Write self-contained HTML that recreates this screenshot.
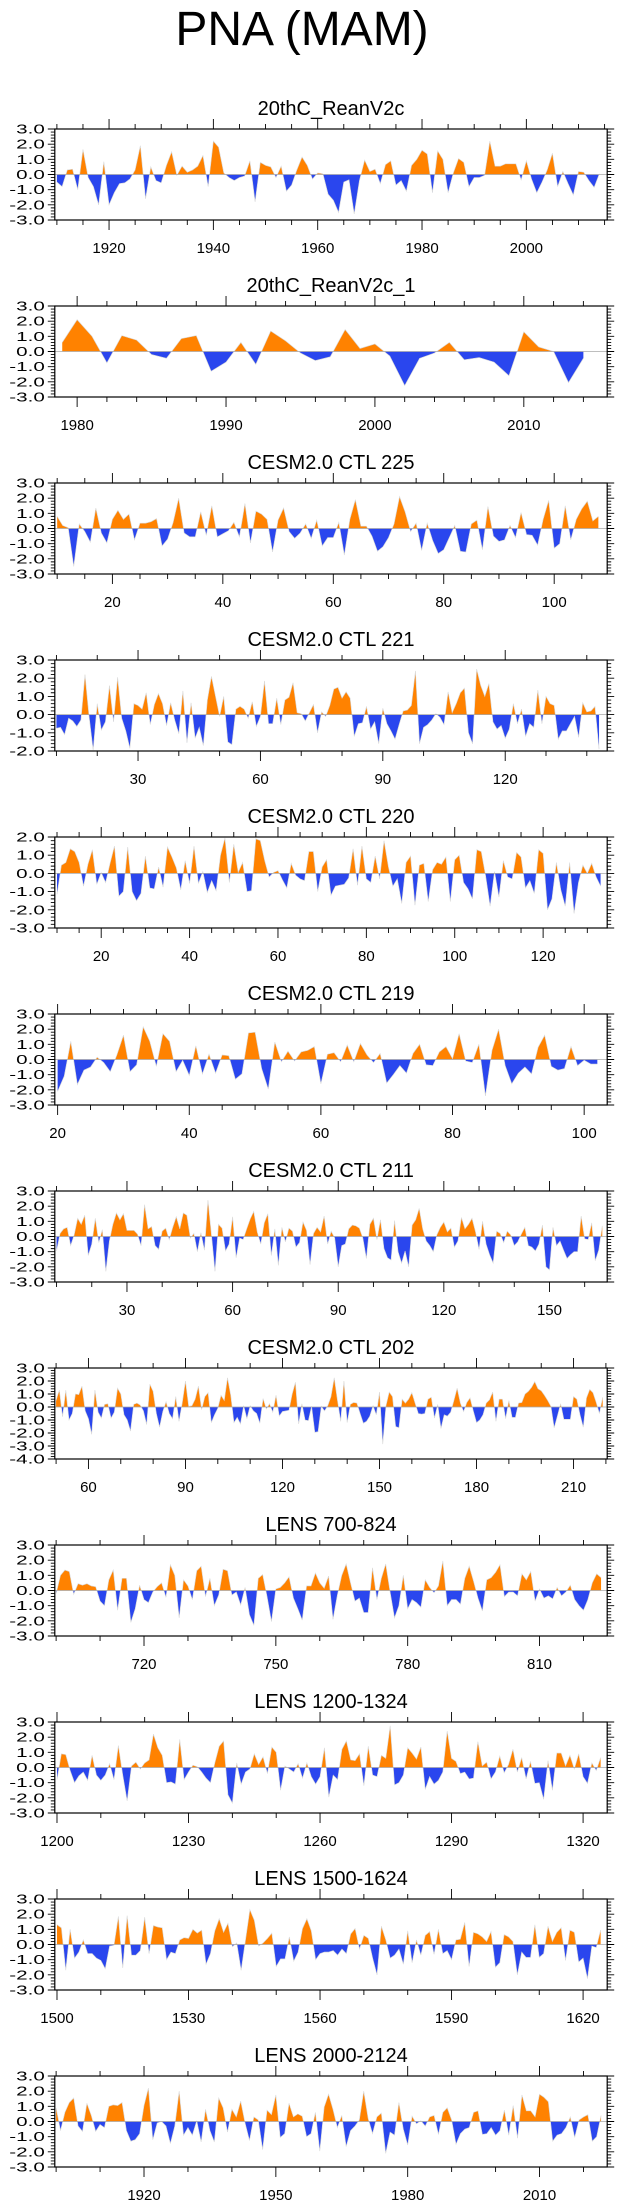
<!DOCTYPE html>
<html><head><meta charset="utf-8"><title>PNA (MAM)</title>
<style>
html,body{margin:0;padding:0;background:#fff;}
svg{display:block;font-family:"Liberation Sans",Arial,sans-serif;}
</style></head>
<body>
<svg id="chart" width="623" height="2209" viewBox="0 0 623 2209" xmlns="http://www.w3.org/2000/svg">
<rect x="0" y="0" width="623" height="2209" fill="#fff"/>
<text x="302" y="45" text-anchor="middle" font-size="48" fill="#000">PNA (MAM)</text>
</svg>
<script>
const titles = ["20thC_ReanV2c","20thC_ReanV2c_1","CESM2.0 CTL 225","CESM2.0 CTL 221","CESM2.0 CTL 220","CESM2.0 CTL 219","CESM2.0 CTL 211","CESM2.0 CTL 202","LENS 700-824","LENS 1200-1324","LENS 1500-1624","LENS 2000-2124"];
const startYears = [1910,1979,10,10,10,20,10,50,700,1200,1500,1900];
const xMins = [1909.6,1978.5,9.57,9.6,9.5,19.57,9.5,49.6,699.7,1199.5,1499.5,1899.7];
const xMaxs = [2015.5,2015.6,109.6,145,134.5,103.5,166.4,220.4,825.4,1325.5,1625.5,2025.4];
const yMins = [-3,-3,-3,-2,-3,-3,-3,-4,-3,-3,-3,-3];
const yMaxs = [3,3,3,3,2,3,3,3,3,3,3,3];
const majorTicks = [
 [1920,1940,1960,1980,2000],
 [1980,1990,2000,2010],
 [20,40,60,80,100],
 [30,60,90,120],
 [20,40,60,80,100,120],
 [20,40,60,80,100],
 [30,60,90,120,150],
 [60,90,120,150,180,210],
 [720,750,780,810],
 [1200,1230,1260,1290,1320],
 [1500,1530,1560,1590,1620],
 [1920,1950,1980,2010]
];
const minorSteps = [5,2,5,10,5,5,10,10,10,10,10,10];

const reanV2c = [-0.5,-0.8,0.3,0.35,-1.0,1.65,-0.2,-0.8,-2.0,0.85,-2.0,-1.2,-0.6,-0.55,-0.3,0.3,1.9,-1.6,0.5,-0.4,-0.55,0.6,1.5,-0.05,0.55,0.15,0.3,0.55,1.25,-0.8,2.2,1.8,0.1,-0.2,-0.4,-0.2,-0.1,0.9,-1.8,0.8,0.6,0.5,-0.2,0.55,-1.1,-0.7,0.3,1.15,0.6,-0.3,0.1,0.05,-1.3,-1.7,-2.5,-0.5,-0.35,-2.6,-0.4,0.95,0.2,0.35,-0.6,0.65,0.9,-0.7,-0.4,-1.1,0.6,1.0,1.6,1.35,-1.2,1.55,1.0,-1.2,0.1,1.05,0.8,-0.8,-0.2,-0.2,-0.05,2.2,0.55,0.55,0.7,0.7,0.7,-0.35,0.9,-0.3,-1.2,-0.5,0.3,1.4,-0.8,0.2,-0.6,-1.35,0.2,0.15,-0.4,-0.85,0.05];
const reanV2c1 = [0.6,2.1,1.0,-0.75,1.05,0.75,-0.2,-0.45,0.85,1.05,-1.3,-0.7,0.6,-0.85,1.35,0.7,-0.1,-0.6,-0.35,1.45,0.2,0.5,-0.3,-2.25,-0.45,-0.1,0.6,-0.55,-0.4,-0.7,-1.6,1.3,0.3,0.0,-2.05,-0.45];
const ctl225 = [0.8,0.2,0.05,-2.5,0.3,-0.2,-0.9,1.35,-0.3,-0.95,0.6,1.2,0.6,0.95,-0.75,0.35,0.35,0.45,0.65,-1.15,-0.7,0.4,2.0,-0.3,-0.55,-0.55,1.1,-0.45,1.5,-0.55,-0.35,-0.15,0.4,-0.55,1.65,-0.95,1.15,0.95,0.6,-1.55,0.55,1.35,-0.2,-0.65,-0.3,0.3,-0.65,0.55,-1.15,-0.6,-0.6,0.4,-1.75,0.6,1.9,0.15,0.15,-0.5,-1.5,-1.2,-0.6,0.3,2.1,1.1,-0.2,0.35,-1.45,0.35,-0.8,-1.65,-1.4,-0.6,0.2,-1.5,-1.55,0.3,0.55,-1.4,1.45,-0.5,-0.85,-0.75,0.2,-0.6,1.05,-0.4,-0.45,-1.1,0.6,1.85,-1.3,-1.0,1.5,-0.75,0.6,1.3,1.8,0.5,0.8];
const ctl221 = [-0.75,-0.7,-1.1,-0.2,-0.35,-0.65,-0.3,2.2,-0.1,-1.95,0.6,-0.85,-0.4,1.6,-0.4,2.05,-0.2,-0.9,-1.85,0.6,0.5,0.3,1.2,-0.55,0.55,1.15,0.6,-0.6,0.65,-0.3,-1.05,1.3,-1.55,0.65,-1.3,-0.7,-1.7,0.8,2.1,1.0,-0.1,1.0,-1.5,-1.65,0.3,0.45,0.3,-0.2,0.7,-0.65,-0.1,1.85,-0.5,-0.5,0.9,-0.55,0.8,0.95,1.75,0.1,0.05,-0.35,0.1,0.55,-1.0,0.15,-0.1,0.5,1.4,1.5,0.9,1.25,0.9,-1.2,-0.5,-0.45,0.45,-0.8,-0.4,-1.6,0.35,-0.5,-0.9,-1.35,-0.55,0.2,0.25,0.5,2.4,-1.6,-0.7,-0.55,-0.3,0.05,-0.15,-0.55,1.25,0.1,0.6,1.2,1.45,-1.0,-1.6,2.5,1.6,1.0,1.7,-0.4,-0.8,-0.6,-1.3,-0.8,0.6,-0.5,0.3,-1.2,-0.5,-0.7,1.35,-0.5,1.0,0.6,0.5,-1.35,-0.9,-0.9,-0.5,-0.1,-1.25,0.65,0.15,0.2,0.45,-1.9];
const ctl220 = [-1.15,0.45,0.6,1.35,1.2,0.6,-0.7,0.5,1.3,-0.6,0.05,-0.5,0.55,1.5,-1.25,-1.0,1.45,-1.0,-1.5,-1.1,0.95,-0.8,-0.85,0.35,-0.75,1.45,0.9,0.3,-0.9,0.7,-0.55,1.5,-0.55,0.1,-1.05,-0.4,-0.95,1.0,1.95,-0.5,1.6,0.05,0.6,-1.0,-0.95,1.9,1.8,0.7,-0.2,0.05,0.15,-0.35,-0.8,0.55,-0.1,-0.3,-0.4,1.2,1.2,-1.0,0.35,0.75,-1.2,-0.7,-0.65,-0.6,-0.25,1.35,-0.65,1.5,-0.3,-0.5,0.95,-0.3,1.8,0.35,-0.7,-0.3,-1.65,0.6,0.95,-1.75,0.45,0.55,-1.55,0.2,0.6,0.5,0.9,-1.55,0.75,1.0,-0.5,-0.85,-1.4,1.3,1.2,-0.15,-1.8,0.1,-1.3,0.7,-0.2,-0.3,1.15,0.9,-0.8,-0.4,-1.1,1.3,1.1,-2.0,-1.4,0.6,-0.9,-1.8,0.6,-2.2,-0.5,0.45,0.0,0.55,-0.2,-0.7];
const ctl219 = [-2.1,-1.1,1.2,-1.65,-0.7,-0.5,0.15,-0.2,-0.8,0.3,1.6,-0.8,-0.35,2.15,1.2,-0.45,1.7,1.2,-0.8,-0.05,-1.05,0.9,-0.95,0.35,-0.9,0.3,0.25,-1.3,-0.95,1.75,1.8,-0.6,-1.95,1.15,-0.15,0.55,-0.1,0.5,0.6,0.85,-1.6,0.35,0.45,-0.15,0.95,-0.15,1.05,0.3,-0.2,0.4,-1.55,-1.0,-0.4,-0.9,0.4,1.0,-0.35,-0.4,0.5,0.85,0.05,1.7,-0.1,-0.2,1.0,-2.4,0.6,2.0,-0.4,-1.6,-0.9,-0.5,-0.95,0.8,1.6,-0.45,-0.7,-0.6,0.85,-0.4,-0.05,-0.3,-0.3];
const ctl211 = [-0.95,0.2,0.5,0.6,-0.6,0.1,1.2,0.8,1.4,-1.25,-0.5,1.2,-0.4,0.45,-2.3,-0.3,0.8,1.55,1.1,1.5,0.4,0.4,0.4,0.15,-0.6,2.1,0.5,0.65,-0.6,-0.85,0.35,0.55,-0.2,0.6,1.3,0.5,1.55,1.4,-0.1,0.2,-1.0,0.25,-0.9,2.4,0.1,-2.3,0.8,0.55,-0.95,-0.5,1.3,-1.4,-0.1,-0.2,0.5,1.15,1.65,0.3,-0.5,0.9,1.5,-1.25,0.5,-1.9,0.6,-0.35,0.55,0.35,-0.7,-0.4,0.95,0.4,-1.85,0.2,0.6,0.3,1.35,-0.5,0.35,-0.1,-2.0,-0.6,-0.5,0.5,0.75,0.7,0.55,-0.1,-1.45,0.8,1.2,-0.2,1.1,-0.8,-1.4,-1.55,1.05,-1.0,-1.75,-0.95,-2.0,0.75,1.1,1.85,0.5,-0.3,-0.6,-1.0,0.1,0.6,0.95,0.3,0.55,-0.7,-0.3,1.25,0.5,0.8,1.2,0.3,-0.85,1.0,-0.5,-1.2,-1.75,0.35,0.2,-0.4,0.35,0.1,-0.6,-0.35,0.15,0.6,-0.6,-0.7,-0.95,-0.5,0.75,-2.0,-2.2,0.6,-0.6,-0.3,-0.9,-1.45,-1.2,-1.0,-1.0,1.35,-0.15,-0.2,0.9,-1.6,-0.9,0.7];
const ctl202 = [0.5,1.3,-0.75,1.3,-1.0,-0.5,1.0,0.95,1.6,-0.3,-0.9,-2.1,1.3,-0.4,-0.85,0.2,0.25,-0.85,-0.4,1.45,1.0,-0.6,-1.0,-1.85,0.2,0.3,0.15,-0.3,-1.35,1.75,1.2,-0.5,-1.55,-0.35,0.4,-0.5,-0.9,0.8,-1.1,0.3,2.0,0.05,0.1,0.6,1.6,-0.2,0.8,1.1,-1.2,-0.6,-0.1,0.9,0.5,2.25,0.9,-1.2,-0.8,-1.3,0.1,-0.9,0.1,-0.3,-0.5,-1.25,0.65,-0.15,0.25,-0.4,0.9,-0.7,-0.35,-0.3,-0.25,1.0,1.9,-1.3,0.25,-1.0,-1.05,0.05,-1.95,-1.9,0.05,-0.3,0.1,0.8,2.25,0.5,-1.1,2.0,-1.2,0.2,0.35,0.3,-0.5,-1.25,-1.1,-0.7,0.1,-0.6,1.15,-2.85,0.1,1.15,0.8,-1.5,-1.6,0.6,0.3,0.6,1.1,0.3,-0.5,-0.55,-0.5,0.6,0.75,-0.85,0.2,-1.65,-0.6,-0.7,-0.4,0.5,1.45,0.3,-0.35,0.35,0.7,-0.3,-1.2,-1.0,-0.6,0.3,0.55,1.15,-1.1,0.6,0.6,-0.9,0.5,-0.8,-0.8,0.3,0.35,1.0,1.2,1.5,1.95,1.4,1.25,0.9,0.5,0.05,-1.6,-0.7,0.25,-0.95,-0.95,-0.95,0.8,0.6,-0.6,-1.55,0.7,1.35,1.1,0.35,-0.5,0.75];
const lens700 = [-0.2,1.0,1.35,1.25,-0.25,0.45,0.35,0.45,0.3,0.25,-0.7,-1.0,0.7,1.35,-1.3,0.8,0.8,-2.1,-1.2,0.35,-0.6,-0.8,-0.1,0.25,0.5,-0.45,1.7,1.0,-1.8,0.7,0.3,-0.6,1.3,1.6,-0.4,0.8,-1.0,-0.3,1.4,1.3,-0.3,-0.1,-0.95,0.2,-1.6,-2.3,0.8,1.05,-0.4,-2.05,0.1,0.2,0.5,0.9,-0.5,-1.2,-1.95,0.3,0.3,1.15,0.5,0.15,0.95,-1.9,-0.3,1.0,1.75,0.5,-0.7,-0.5,-1.45,-1.45,1.5,-0.6,0.8,1.75,-0.1,-1.8,-1.0,1.0,-1.2,-0.6,-0.8,-1.1,0.7,0.2,-0.15,0.3,1.95,-1.0,-0.6,-0.6,-0.9,0.8,1.6,0.6,-0.5,-1.35,0.7,0.85,1.2,1.7,-0.4,-0.1,-0.1,-0.35,1.1,0.7,1.25,-0.7,0.1,-0.5,-0.35,-0.55,0.2,-0.35,-0.1,0.35,-0.6,-1.0,-1.3,-0.6,0.5,1.1,0.85];
const lens1200 = [-0.8,0.9,0.85,-0.2,-1.0,-0.55,-0.3,-0.85,0.8,-0.5,-0.85,-0.5,0.25,-0.8,1.45,-0.5,-2.2,0.1,0.35,-0.1,0.3,0.5,2.2,1.3,0.8,-1.0,-0.95,-1.1,1.85,-0.8,-0.3,0.15,0.05,-0.3,-0.7,-1.0,0.3,1.4,1.75,-1.8,-2.35,0.3,-1.1,-0.3,-0.1,0.9,0.2,0.7,-0.4,1.35,1.0,-1.5,0.1,-0.1,-0.3,0.25,-0.7,0.3,-0.6,-1.1,-0.6,1.3,-1.95,-0.5,-0.8,1.2,1.75,0.5,0.45,0.9,-1.2,1.4,-0.5,-0.6,0.8,0.6,2.75,-1.15,-1.0,-0.5,1.3,0.95,0.55,1.35,-1.45,-0.6,-1.1,-0.85,-0.3,2.4,0.6,0.4,-0.4,-0.3,-0.75,-0.7,1.7,0.1,0.35,-0.75,-0.3,0.75,-0.35,0.2,1.2,-0.3,0.65,-0.75,0.4,-1.05,-1.0,-2.1,0.45,-1.5,0.95,0.95,0.1,0.8,-0.1,0.9,-0.6,-1.05,0.3,-0.2,0.65];
const lens1500 = [1.3,1.1,-1.7,1.0,-0.9,-0.5,0.3,-0.6,-0.6,-0.9,-1.05,-1.6,-0.1,-0.05,1.85,-1.55,1.9,-0.7,-0.7,-0.4,1.8,-0.6,1.25,1.15,1.1,-1.0,-0.5,-0.6,0.3,0.45,0.4,1.0,0.75,0.95,-1.3,-0.6,0.9,1.7,0.8,1.4,-0.15,0.1,-1.7,0.3,2.3,1.6,-0.1,0.1,0.4,0.75,-1.45,-0.95,-0.95,0.5,-1.1,-0.5,1.05,1.7,0.9,-1.0,-0.6,-0.5,-0.5,-0.4,-0.7,-0.3,-0.6,0.7,1.05,-0.3,0.6,0.4,-0.9,-2.0,1.2,0.3,-0.9,-0.7,-0.3,-1.3,0.9,-1.2,0.3,-0.7,0.6,0.85,-0.65,1.0,-0.6,-0.4,-1.0,0.3,0.35,1.45,-1.45,0.8,0.7,0.5,0.2,0.85,-1.5,-1.2,0.65,0.5,0.2,-2.0,-0.5,-0.85,-0.85,1.3,-0.85,-0.6,1.2,0.2,0.8,1.1,-1.05,0.95,0.8,-1.15,-0.9,-2.25,-0.1,-0.2,0.95];
const lens2000 = [0.9,-0.6,0.6,1.25,1.55,-0.3,-0.65,1.2,0.4,-0.65,-0.2,-0.4,1.0,1.1,1.05,1.25,-0.6,-1.3,-1.2,-0.8,1.05,2.2,-1.2,-0.1,0.0,-0.3,-1.45,-0.3,2.0,-0.9,-0.4,-0.9,0.05,-1.35,0.8,-0.6,-1.35,1.55,0.9,-0.7,0.8,0.3,1.35,-0.1,-1.25,0.3,0.1,-1.85,0.75,0.45,1.75,-1.05,-0.8,1.2,0.3,0.5,0.35,-1.0,-0.8,0.6,-1.95,0.95,1.8,0.8,-0.4,0.4,-1.65,-0.6,-0.3,0.1,2.0,0.2,-0.8,0.3,0.55,-2.1,-0.7,-0.9,1.25,-0.5,-1.55,0.35,-0.15,0.05,-0.3,0.3,0.4,-0.85,0.6,0.9,0.1,-1.5,-0.8,-0.5,-0.4,0.6,0.7,-0.85,-0.8,-0.4,-0.9,-0.6,0.75,-0.9,1.05,-1.1,1.75,0.7,0.7,0.3,1.8,1.6,1.3,-1.3,-0.9,-0.8,-0.4,0.3,-1.05,0.1,0.3,0.45,-1.3,-1.0,0.4];
const allSeries = [reanV2c,reanV2c1,ctl225,ctl221,ctl220,ctl219,ctl211,ctl202,lens700,lens1200,lens1500,lens2000];

const NS = "http://www.w3.org/2000/svg";
const svg = document.getElementById("chart");
const BOX_L = 54.8, BOX_R = 607.2, BOX_H = 91, TOP0 = 129, GAP = 177;
const CX = (BOX_L + BOX_R) / 2;
function mk(tag, attrs, parent) {
  const e = document.createElementNS(NS, tag);
  for (const k in attrs) e.setAttribute(k, attrs[k]);
  (parent || svg).appendChild(e);
  return e;
}
function slug(s){return s.toLowerCase().replace(/[^a-z0-9]+/g,'-').replace(/^-|-$/g,'');}

titles.forEach((title, i) => {
  const top = TOP0 + i * GAP, bot = top + BOX_H;
  const xmin = xMins[i], xmax = xMaxs[i], ymin = yMins[i], ymax = yMaxs[i];
  const sx = v => BOX_L + (v - xmin) / (xmax - xmin) * (BOX_R - BOX_L);
  const sy = v => bot - (v - ymin) / (ymax - ymin) * BOX_H;
  const g = mk("g", {});
  
  

  const t = mk("text", {x: CX, y: top-14, "text-anchor":"middle", "font-size":"20", fill:"#000"}, g);
  t.textContent = title;
  
  

  const vals = allSeries[i], y0 = startYears[i];
  const pts = vals.map((v, k) => [y0 + k, v]);
  let pos = [[pts[0][0], 0]], neg = [[pts[0][0], 0]];
  for (let k = 0; k < pts.length; k++) {
    const [x, v] = pts[k];
    if (k > 0) {
      const [xp, vp] = pts[k-1];
      if ((vp > 0 && v < 0) || (vp < 0 && v > 0)) {
        const xc = xp + (x - xp) * (vp / (vp - v));
        pos.push([xc, 0]); neg.push([xc, 0]);
      }
    }
    pos.push([x, Math.max(v, 0)]); neg.push([x, Math.min(v, 0)]);
  }
  const last = pts[pts.length-1][0];
  pos.push([last, 0]); neg.push([last, 0]);
  const toStr = arr => arr.map(p => sx(p[0]).toFixed(2) + "," + sy(p[1]).toFixed(2)).join(" ");
  const pp = mk("polygon", {points: toStr(pos), fill:"#ff8200", stroke:"none"}, g);
  
  
  const np = mk("polygon", {points: toStr(neg), fill:"#2a46ee", stroke:"none"}, g);
  
  
  const ln = mk("polyline", {points: toStr(pts), fill:"none", stroke:"#d8d8d8", "stroke-width":"0.6"}, g);
  
  
  const zl = mk("line", {x1:BOX_L, x2:BOX_R, y1:sy(0), y2:sy(0), stroke:"#a8a8a8", "stroke-width":"0.8"}, g);
  
  

  const box = mk("rect", {x:BOX_L, y:top, width:BOX_R-BOX_L, height:BOX_H, fill:"none", stroke:"#000", "stroke-width":"1.2"}, g);
  
  

  let tk = "";
  const step = minorSteps[i];
  for (let v = Math.ceil(xmin/step)*step; v <= xmax; v += step) {
    const x = sx(v).toFixed(2);
    const major = majorTicks[i].includes(v);
    const L = major ? 10 : 5;
    tk += `M${x},${top}V${top-L}M${x},${bot}V${bot+L}`;
  }
  for (let v = ymin; v <= ymax + 1e-6; v += 0.2) {
    const vv = Math.round(v*10)/10;
    const y = sy(vv).toFixed(2);
    const major = Math.abs(vv - Math.round(vv)) < 1e-6;
    const L = major ? 7 : 4;
    tk += `M${BOX_L},${y}H${BOX_L-L}M${BOX_R},${y}H${BOX_R+L}`;
  }
  const ticks = mk("path", {d: tk, stroke:"#000", "stroke-width":"0.9", fill:"none"}, g);
  
  

  majorTicks[i].forEach(v => {
    const lab = mk("text", {x: sx(v).toFixed(2), y: bot+33, "text-anchor":"middle", "font-size":"15", fill:"#000"}, g);
    lab.textContent = String(v);
    
    
  });
  for (let v = ymin; v <= ymax; v++) {
    const lab = mk("text", {transform:`translate(44.8,${(sy(v)+4.5).toFixed(2)}) scale(1.65,1)`, "text-anchor":"end", "font-size":"12.5", fill:"#000"}, g);
    lab.textContent = v.toFixed(1);
    
    
  }
});
</script>
</body></html>
